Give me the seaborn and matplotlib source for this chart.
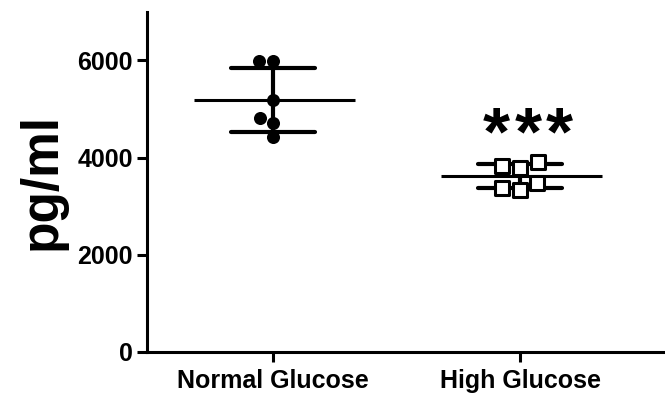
import numpy as np
import pandas as pd
import matplotlib
matplotlib.use('Agg')
import matplotlib.pyplot as plt
import seaborn as sns

groups = ['Normal Glucose', 'High Glucose']
normal_vals = [5980, 5980, 5196, 4720, 4825, 4430]
high_vals = [3920, 3835, 3795, 3485, 3380, 3340]
y_ticks = [0, 2000, 4000, 6000]
star_text = '*'

sns.set_style('ticks')
plt.rcParams['font.family'] = ['Liberation Sans', 'DejaVu Sans']
plt.rcParams['font.weight'] = 'bold'
for key in ['text.color', 'axes.labelcolor', 'xtick.color', 'ytick.color', 'axes.edgecolor']:
    plt.rcParams[key] = 'black'

df = pd.DataFrame({
    'group': [groups[0]] * len(normal_vals) + [groups[1]] * len(high_vals),
    'value': normal_vals + high_vals,
})

fig = plt.figure(figsize=(6.65, 3.97), dpi=100)
ax = fig.add_axes([0.221, 0.1134, 0.779, 0.8566])

# error bars (mean +/- SD) drawn by seaborn
sns.pointplot(data=df, x='group', y='value', order=groups, errorbar='sd',
              capsize=0.34, color='black', linestyle='none', marker='',
              err_kws={'linewidth': 3}, ax=ax)

# mean lines
means = df.groupby('group')['value'].mean().reindex(groups)
for i, m in enumerate(means):
    ax.hlines(m, i - 0.32, i + 0.33, color='black', linewidth=2.2, zorder=3)

# points
sns.swarmplot(data=df[df['group'] == groups[0]], x='group', y='value', order=groups,
              color='black', marker='o', size=9.4, ax=ax, zorder=4)
sns.swarmplot(data=df[df['group'] == groups[1]], x='group', y='value', order=groups,
              color='white', edgecolor='black', linewidth=2.2, marker='s', size=10.5,
              ax=ax, zorder=4)

# significance stars
for k in range(3):
    ax.text(1.03 + (k - 1) * 0.129, 4430, star_text, ha='center', va='center',
            fontsize=50, fontweight='bold', transform=ax.transData)

ax.set_ylim(0, 7000)
ax.set_xlim(-0.51, 1.585)
ax.set_yticks(y_ticks)
ax.set_xlabel('')
ax.set_ylabel('pg/ml', fontsize=37, fontweight='bold', labelpad=8)
ax.tick_params(axis='both', width=2.2, length=7.2, labelsize=18, direction='out')
ax.tick_params(axis='x', pad=5)
ax.tick_params(axis='y', pad=3)
for lbl in ax.get_xticklabels() + ax.get_yticklabels():
    lbl.set_fontweight('bold')
for s in ['left', 'bottom']:
    ax.spines[s].set_linewidth(2.2)
sns.despine(ax=ax)

fig.savefig('out.png', dpi=100)
